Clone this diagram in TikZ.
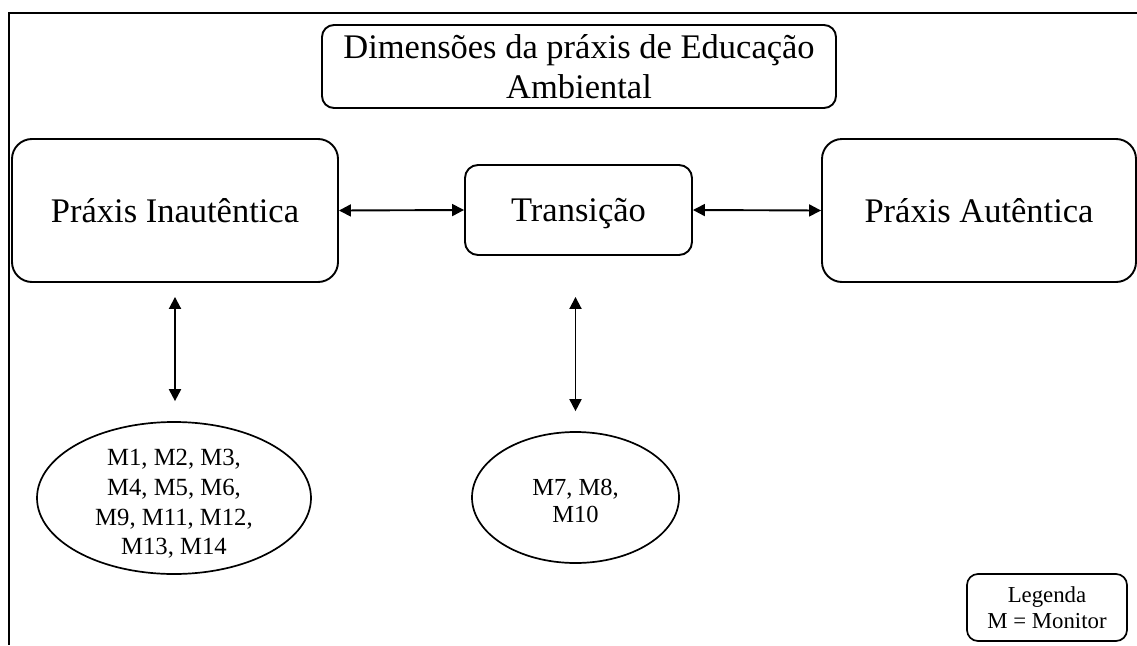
\documentclass[tikz,border=0pt]{standalone}
\usepackage{fontspec}
\setmainfont{Liberation Serif}
\usetikzlibrary{arrows.meta,shapes.geometric}
\tikzset{
  box/.style={draw, line width=1.9pt, rounded corners=#1, inner sep=0pt, align=center,
    font=\fontsize{34.5}{40}\selectfont},
  oneline/.style={text height=23pt, text depth=0pt},
  oval/.style={draw, line width=1.7pt, ellipse, inner sep=0pt},
  ovaltext/.style={align=center, inner sep=0pt},
  link/.style={line width=1.9pt, {Triangle[length=12pt,width=12pt]}-{Triangle[length=12pt,width=12pt]}},
  frame/.style={line width=#1}
}
\begin{document}
\begin{tikzpicture}[x=1pt,y=-1pt]
\useasboundingbox (0,0) rectangle (1137,645);
\draw[frame=1.7pt] (8,13) -- (1137,13);
\draw[frame=2.8pt] (9,12.2) -- (9,645);
\node[box=12pt, minimum width=514pt, minimum height=83pt] (title) at (579,66.5)
  {Dimensões da práxis de Educação\\Ambiental};
\node[box=20pt, oneline, minimum width=326pt, minimum height=143pt] (inaut) at (175,210.5) {Práxis Inautêntica};
\node[box=13pt, oneline, minimum width=227pt, minimum height=90pt] (trans) at (578.5,210) {Transição};
\node[box=20pt, oneline, minimum width=314pt, minimum height=143pt] (aut) at (979,210.5) {Práxis Autêntica};
\node[oval, minimum width=274pt, minimum height=152pt] (e1) at (174,498) {};
\node[ovaltext, font=\fontsize{24.7}{29.7}\selectfont] (e1t) at (174,504)
  {M1, M2, M3,\\M4, M5, M6,\\M9, M11, M12,\\M13, M14};
\node[oval, minimum width=207pt, minimum height=131pt] (e2) at (575.5,497.5) {};
\node[ovaltext, font=\fontsize{24.5}{27}\selectfont] (e2t) at (575.5,501)
  {M7, M8,\\M10};
\node[box=11pt, line width=1.7pt, minimum width=160pt, minimum height=67pt, font=\fontsize{22.8}{26}\selectfont] (leg) at (1047,607.5)
  {Legenda\\M = Monitor};
\draw[link] (inaut.east) -- (trans.west);
\draw[link] (trans.east) -- (aut.west);
\draw[link, shorten <=14pt, shorten >=20pt] (inaut.south) -- (inaut.south |- e1.north);
\draw[link, shorten <=41pt, shorten >=20pt] (e2.north |- trans.south) -- (e2.north);
\end{tikzpicture}
\end{document}
